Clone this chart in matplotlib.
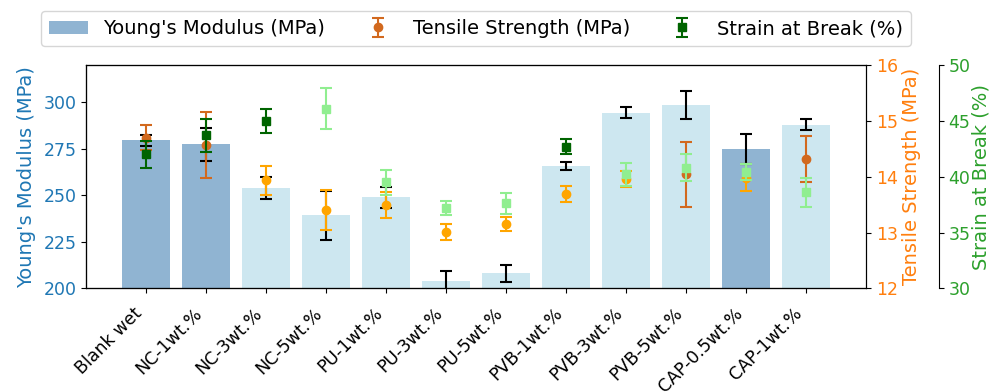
import numpy as np
import matplotlib.pyplot as plt

samples = ["Blank wet", "NC-1wt.%", "NC-3wt.%", "NC-5wt.%", "PU-1wt.%", "PU-3wt.%",
           "PU-5wt.%", "PVB-1wt.%", "PVB-3wt.%", "PVB-5wt.%", "CAP-0.5wt.%", "CAP-1wt.%"]

youngs     = [279.5, 277.4, 253.9, 239.2, 248.9, 204.1, 208.2, 265.8, 294.4, 298.7, 274.9, 288.0]
youngs_err = [3.0, 9.0, 6.0, 13.0, 5.8, 5.0, 4.6, 2.3, 3.0, 7.6, 8.3, 3.0]

tensile     = [14.70, 14.57, 13.94, 13.41, 13.49, 13.01, 13.15, 13.69, 13.96, 14.04, 13.98, 14.32]
tensile_err = [0.22, 0.59, 0.26, 0.36, 0.23, 0.15, 0.13, 0.15, 0.14, 0.58, 0.24, 0.41]

strain     = [42.0, 43.7, 45.0, 46.1, 39.5, 37.2, 37.6, 42.7, 40.2, 40.8, 40.4, 38.6]
strain_err = [1.2, 1.45, 1.05, 1.83, 1.1, 0.6, 0.9, 0.65, 1.0, 1.2, 0.72, 1.3]

# which samples are highlighted in each property
youngs_hi  = [True, True, False, False, False, False, False, False, False, False, True, False]
tensile_hi = [True, True, False, False, False, False, False, False, False, True, False, True]
strain_hi  = [True, True, True, False, False, False, False, True, False, False, False, False]

FS_TICK = 12.5
FS_LAB = 14
x = np.arange(len(samples))

fig, ax1 = plt.subplots(figsize=(9.91, 3.92), dpi=100)
fig.subplots_adjust(left=0.0868, right=0.8739, bottom=0.2645, top=0.834)

bar_cols = ["steelblue" if h else "lightblue" for h in youngs_hi]
bars = ax1.bar(x, youngs, width=0.8, color=bar_cols, alpha=0.6,
               yerr=youngs_err, capsize=4,
               error_kw=dict(ecolor="black", elinewidth=1.5, capthick=1.5))
ax1.set_ylim(200, 320)
ax1.set_xlim(-1, 12)
ax1.set_yticks([200, 225, 250, 275, 300])
ax1.set_ylabel("Young's Modulus (MPa)", color="tab:blue", fontsize=FS_LAB, labelpad=5)
ax1.tick_params(axis="y", labelcolor="tab:blue", labelsize=FS_TICK)
ax1.set_xticks(x)
ax1.set_xticklabels(samples, rotation=45, ha="right", fontsize=FS_TICK)
ax1.tick_params(axis="x", pad=8)

ax2 = ax1.twinx()
ts_handle = None
for i in x:
    col = "chocolate" if tensile_hi[i] else "orange"
    h = ax2.errorbar(x[i], tensile[i], yerr=tensile_err[i], fmt="o", color=col,
                     ecolor=col, markersize=6, capsize=4, elinewidth=1.5, capthick=1.5)
    if i == 0:
        ts_handle = h
ax2.set_ylim(12, 16)
ax2.set_yticks([12, 13, 14, 15, 16])
ax2.set_ylabel("Tensile Strength (MPa)", color="tab:orange", fontsize=FS_LAB, labelpad=3)
ax2.tick_params(axis="y", labelcolor="tab:orange", labelsize=FS_TICK)

ax3 = ax1.twinx()
ax3.spines["right"].set_position(("axes", 1.093))
sb_handle = None
for i in x:
    col = "darkgreen" if strain_hi[i] else "lightgreen"
    h = ax3.errorbar(x[i], strain[i], yerr=strain_err[i], fmt="s", color=col,
                     ecolor=col, markersize=5.5, capsize=4, elinewidth=1.5, capthick=1.5)
    if i == 0:
        sb_handle = h
ax3.set_ylim(30, 50)
ax3.set_yticks([30, 35, 40, 45, 50])
ax3.set_ylabel("Strain at Break (%)", color="tab:green", fontsize=FS_LAB, labelpad=1)
ax3.tick_params(axis="y", labelcolor="tab:green", labelsize=FS_TICK)

ax1.legend([bars.patches[0], ts_handle, sb_handle],
           ["Young's Modulus (MPa)", "Tensile Strength (MPa)", "Strain at Break (%)"],
           loc="lower center", bbox_to_anchor=(0.5, 1.042), ncol=3, fontsize=FS_LAB,
           columnspacing=1.7)

plt.savefig("out.png", dpi=100)
